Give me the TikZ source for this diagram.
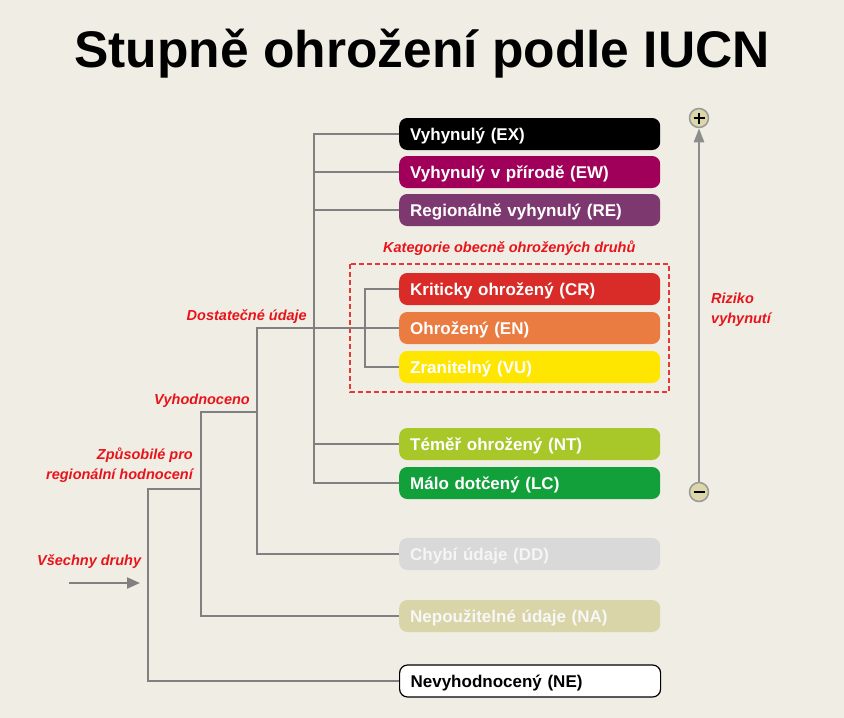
\documentclass[tikz,border=0pt]{standalone}
\usepackage{fontspec}
\setmainfont{Liberation Sans}
\usetikzlibrary{arrows.meta}
\definecolor{bg}{HTML}{F0EEE4}
\definecolor{conncol}{HTML}{808080}
\definecolor{lblred}{HTML}{E8141B}
\definecolor{cEX}{HTML}{000000}
\definecolor{cEW}{HTML}{A0005A}
\definecolor{cRE}{HTML}{7E3870}
\definecolor{cCR}{HTML}{D92B27}
\definecolor{cEN}{HTML}{EA7C42}
\definecolor{cVU}{HTML}{FFE600}
\definecolor{cNT}{HTML}{A8C82A}
\definecolor{cLC}{HTML}{12A03B}
\definecolor{cDD}{HTML}{D9D9D9}
\definecolor{cNA}{HTML}{DAD5A8}
\definecolor{circfill}{HTML}{DCD6A9}
\definecolor{dashred}{HTML}{E53935}
\tikzset{
  catbox/.style={rectangle, rounded corners=8pt, minimum width=261pt, minimum height=32pt,
    text width=239pt, inner xsep=11pt, inner ysep=0pt, align=left, anchor=west,
    text height=12.2pt, text depth=0pt, font=\fontsize{17}{20}\selectfont\bfseries, text=white},
  conn/.style={draw=conncol, line width=2pt},
  lbl/.style={font=\fontsize{14.5}{17}\selectfont\bfseries\itshape, text=lblred, inner sep=0pt},
  circ/.style={circle, draw=conncol!80, line width=1.5pt, fill=circfill, minimum size=19pt, inner sep=0pt},
  sym/.style={line width=2.2pt, draw=black}
}
\begin{document}
\begin{tikzpicture}[x=1pt,y=-1pt]
\fill[bg] (0,0) rectangle (844,718);
\useasboundingbox (0,0) rectangle (844,718);
\node[font=\fontsize{51.5}{56}\selectfont\bfseries, anchor=base, inner sep=0pt] (title) at (422,67) {Stupně ohrožení podle IUCN};

% boxes
\node[catbox, fill=cEX] (ex) at (399,134) {Vyhynulý (EX)};
\node[catbox, fill=cEW] (ew) at (399,172) {Vyhynulý v přírodě (EW)};
\node[catbox, fill=cRE] (re) at (399,210) {Regionálně vyhynulý (RE)};
\node[catbox, fill=cCR] (cr) at (399,289) {Kriticky ohrožený (CR)};
\node[catbox, fill=cEN] (en) at (399,328) {Ohrožený (EN)};
\node[catbox, fill=cVU] (vu) at (399,367) {Zranitelný (VU)};
\node[catbox, fill=cNT] (nt) at (399,444) {Téměř ohrožený (NT)};
\node[catbox, fill=cLC] (lc) at (399,483) {Málo dotčený (LC)};
\node[catbox, fill=cDD, text=white!96!black] (dd) at (399,554) {Chybí údaje (DD)};
\node[catbox, fill=cNA, text=white!97!black] (na) at (399,616) {Nepoužitelné údaje (NA)};
\node[catbox, fill=white, draw=black, line width=1.2pt, text=black] (ne) at (399,681) {Nevyhodnocený (NE)};

% dashed group
\draw[dashred, line width=1.5pt, dash pattern=on 5pt off 3pt] (350,264) rectangle (669,392);

% column coordinates
\coordinate (cA) at (314,0);
\coordinate (cB) at (365,0);
\coordinate (cC) at (257,0);
\coordinate (cD) at (201,0);
\coordinate (cE) at (148,0);
\coordinate (jV) at (257,412);
\coordinate (jZ) at (201,489);

% connectors
\draw[conn] (ex.west) -- (ex.west -| cA) -- (lc.west -| cA) -- (lc.west);
\draw[conn] (ew.west) -- (ew.west -| cA);
\draw[conn] (re.west) -- (re.west -| cA);
\draw[conn] (nt.west) -- (nt.west -| cA);
\draw[conn] (cr.west) -- (cr.west -| cB) -- (vu.west -| cB) -- (vu.west);
\draw[conn] (en.west) -- (en.west -| cC) -- (dd.west -| cC) -- (dd.west);
\draw[conn] (jV) -- (jV -| cD) -- (na.west -| cD) -- (na.west);
\draw[conn] (jZ) -- (jZ -| cE) -- (ne.west -| cE) -- (ne.west);

% input arrow
\coordinate (inS) at (69,583);
\coordinate (inE) at (140,583);
\draw[conn, -{Triangle[length=13pt,width=11pt]}] (inS) -- (inE);

% risk arrow
\node[circ] (plus) at (699,118) {};
\node[circ] (minus) at (699,492) {};
\draw[sym] ([xshift=-5.5pt]plus.center) -- ([xshift=5.5pt]plus.center);
\draw[sym] ([yshift=-5.5pt]plus.center) -- ([yshift=5.5pt]plus.center);
\draw[sym] ([xshift=-5.5pt]minus.center) -- ([xshift=5.5pt]minus.center);
\draw[draw=conncol!90, line width=2.5pt, -{Triangle[length=14pt,width=10pt]}] (minus.north) -- (plus.south);

% labels
\node[lbl, anchor=base west] (kat) at (383,252) {Kategorie obecně ohrožených druhů};
\node[lbl, anchor=base east] (dost) at (307,320) {Dostatečné údaje};
\node[lbl, anchor=base east] (vyh) at (250,404) {Vyhodnoceno};
\node[lbl, anchor=base east] (zp1) at (193,459) {Způsobilé pro};
\node[lbl, anchor=base east] (zp2) at (193,479) {regionální hodnocení};
\node[lbl, anchor=base west] (vse) at (37,565) {Všechny druhy};
\node[lbl, anchor=base west] (riz1) at (711,303) {Riziko};
\node[lbl, anchor=base west] (riz2) at (711,323) {vyhynutí};
\end{tikzpicture}
\end{document}
